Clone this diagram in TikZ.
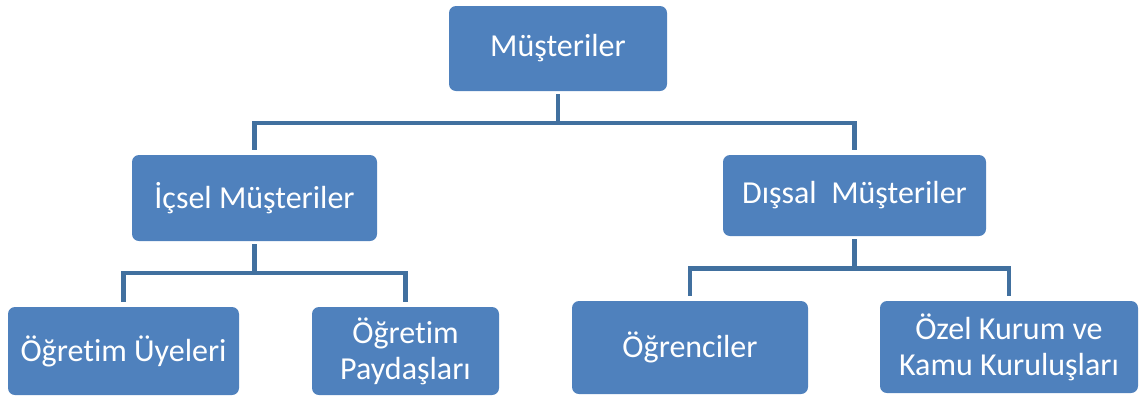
\documentclass[tikz,border=0pt]{standalone}
\usepackage{fontspec}
\setmainfont{Carlito}[Ligatures={NoCommon}]
\definecolor{boxfill}{HTML}{4F81BD}
\definecolor{linkcol}{HTML}{41709F}
\begin{document}
\begin{tikzpicture}[x=1pt,y=-1pt,
  orgbox/.style={fill=boxfill, rounded corners=7pt, text=white, align=center,
    inner sep=0pt, font=\fontsize{32}{36}\selectfont},
  link/.style={draw=linkcol, line width=4.5pt, line join=miter,
    shorten <=3pt, shorten >=5pt}]
  \useasboundingbox (0,0) rectangle (1141,397);

  % boxes
  \node[orgbox, minimum width=218pt, minimum height=85pt] (top) at (558,48.5) {Müşteriler};
  \node[orgbox, minimum width=245pt, minimum height=86pt] (icsel) at (254.5,198) {İçsel Müşteriler};
  \node[orgbox, minimum width=263pt, minimum height=81pt] (dissal) at (854.5,195.5) {Dışsal~ Müşteriler};
  \node[orgbox, minimum width=231pt, minimum height=88pt] (uyeler) at (123.5,351) {Öğretim Üyeleri};
  \node[orgbox, minimum width=187pt, minimum height=88pt] (paydas) at (405.5,351) {Öğretim\\Paydaşları};
  \node[orgbox, minimum width=236pt, minimum height=93pt] (ogrenci) at (690,347.5) {Öğrenciler};
  \node[orgbox, minimum width=258pt, minimum height=92pt] (ozel) at (1009,347) {Özel Kurum ve\\Kamu Kuruluşları};

  % bus levels
  \coordinate (busA) at (0,123);
  \coordinate (busB) at (0,273);
  \coordinate (busC) at (0,268.5);

  % connectors
  \draw[link] (top.south) -- (top.south |- busA) -| (icsel.north);
  \draw[link] (top.south) -- (top.south |- busA) -| (dissal.north);
  \draw[link] (icsel.south) -- (icsel.south |- busB) -| (uyeler.north);
  \draw[link] (icsel.south) -- (icsel.south |- busB) -| (paydas.north);
  \draw[link] (dissal.south) -- (dissal.south |- busC) -| (ogrenci.north);
  \draw[link] (dissal.south) -- (dissal.south |- busC) -| (ozel.north);
\end{tikzpicture}
\end{document}
